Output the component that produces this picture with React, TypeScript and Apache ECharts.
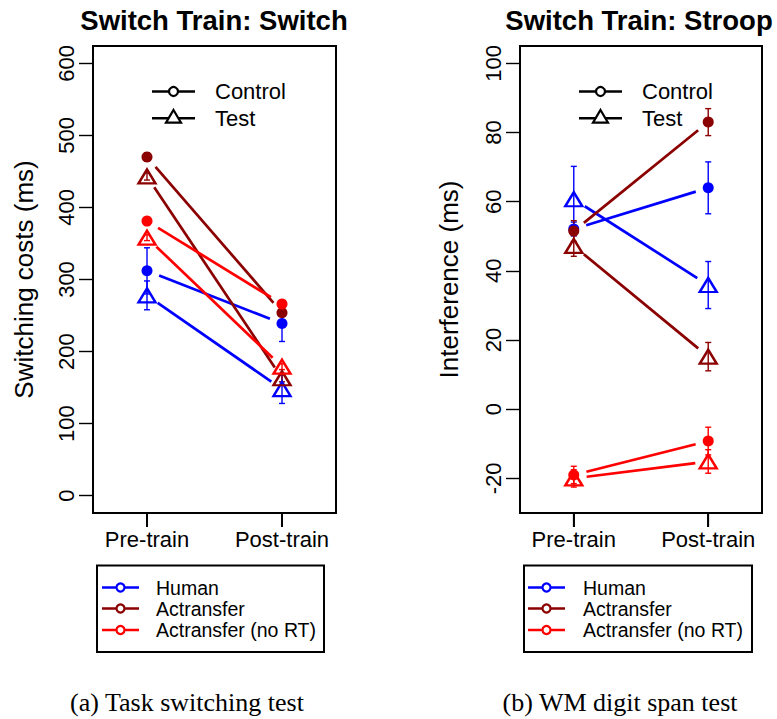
import React, { useEffect, useRef } from "react";
import * as echarts from "echarts";

// ---------- data ----------
const groups = ["Human", "Actransfer", "Actransfer (no RT)"];
const groupColors = ["#0000FF", "#8B0000", "#FF0000"];
const phases = [1, 2];
const phaseLabels = ["Pre-train", "Post-train"];
const conditions = ["Control", "Test"];

// Panel (a): Switch Train: Switch — switching costs (ms), [pre, post] per group
const switchControl = [[312, 239], [470, 254], [381, 266]];
const switchControlErr = [[32, 25], [6, 5], [4, 4]];
const switchTest = [[278, 148], [443, 163], [358, 179]];
const switchTestErr = [[20, 20], [5, 5], [4, 4]];
const switchTicks = [0, 100, 200, 300, 400, 500, 600];
const switchRange = [-24, 624];

// Panel (b): Switch Train: Stroop — interference (ms)
const stroopControl = [[52.1, 64.0], [51.5, 83.0], [-19.0, -9.2]];
const stroopControlErr = [[2, 7.5], [3, 3.9], [2.5, 4]];
const stroopTest = [[60.7, 35.9], [47.2, 15.2], [-20.0, -15.1]];
const stroopTestErr = [[9.5, 6.8], [3, 4.1], [2.5, 3.4]];
const stroopTicks = [-20, 0, 20, 40, 60, 80, 100];
const stroopRange = [-30, 105];

const panelTitles = ["Switch Train: Switch", "Switch Train: Stroop"];
const yTitles = ["Switching costs (ms)", "Interference (ms)"];
const captions = ["(a) Task switching test", "(b) WM digit span test"];

const SANS = "'Liberation Sans', Arial, Helvetica, sans-serif";
const SERIF = "'Liberation Serif', 'Times New Roman', serif";

function buildSeries(
  gridIndex: number,
  control: number[][],
  controlErr: number[][],
  test: number[][],
  testErr: number[][]
) {
  const out: any[] = [];
  groups.forEach((g, gi) => {
    const color = groupColors[gi];
    [
      { vals: control[gi], errs: controlErr[gi], test: false },
      { vals: test[gi], errs: testErr[gi], test: true },
    ].forEach((c) => {
      // connecting line with gaps (R type = "b")
      out.push({
        type: "custom",
        xAxisIndex: gridIndex,
        yAxisIndex: gridIndex,
        silent: true,
        encode: { x: [0, 2], y: [1, 3] },
        data: [[phases[0], c.vals[0], phases[1], c.vals[1]]],
        renderItem: (params: any, api: any) => {
          const p1 = api.coord([api.value(0), api.value(1)]);
          const p2 = api.coord([api.value(2), api.value(3)]);
          const dx = p2[0] - p1[0];
          const dy = p2[1] - p1[1];
          const len = Math.hypot(dx, dy) || 1;
          const ux = dx / len;
          const uy = dy / len;
          const gap = 13;
          return {
            type: "line",
            shape: {
              x1: p1[0] + ux * gap,
              y1: p1[1] + uy * gap,
              x2: p2[0] - ux * gap,
              y2: p2[1] - uy * gap,
            },
            style: { stroke: color, lineWidth: 2.7 },
          };
        },
      });
      // error bars
      out.push({
        type: "custom",
        xAxisIndex: gridIndex,
        yAxisIndex: gridIndex,
        silent: true,
        encode: { x: 0, y: 1 },
        data: phases.map((p, i) => [p, c.vals[i], c.errs[i]]),
        renderItem: (params: any, api: any) => {
          const x = api.value(0);
          const y = api.value(1);
          const e = api.value(2);
          const top = api.coord([x, y + e]);
          const bot = api.coord([x, y - e]);
          const st = { stroke: color, lineWidth: 1.4 };
          return {
            type: "group",
            children: [
              { type: "line", shape: { x1: top[0], y1: top[1], x2: bot[0], y2: bot[1] }, style: st },
              { type: "line", shape: { x1: top[0] - 3, y1: top[1], x2: top[0] + 3, y2: top[1] }, style: st },
              { type: "line", shape: { x1: bot[0] - 3, y1: bot[1], x2: bot[0] + 3, y2: bot[1] }, style: st },
            ],
          };
        },
      });
      // markers
      out.push({
        type: "scatter",
        xAxisIndex: gridIndex,
        yAxisIndex: gridIndex,
        silent: true,
        emphasis: { disabled: true },
        data: phases.map((p, i) => [p, c.vals[i]]),
        symbol: c.test ? "triangle" : "circle",
        symbolSize: c.test ? [17, 14] : 11,
        itemStyle: c.test
          ? { color: "rgba(0,0,0,0)", borderColor: color, borderWidth: 2.4, opacity: 1 }
          : { color: color, opacity: 1 },
      });
    });
  });
  return out;
}

function topLegend(lineX0: number, textX: number): any[] {
  const lx1 = lineX0 + 43;
  const cx = lineX0 + 21.5;
  const y1 = 91.5;
  const y2 = 118.3;
  const ls = { stroke: "#000", lineWidth: 2.5 };
  return [
    { type: "line", shape: { x1: lineX0, y1, x2: lx1, y2: y1 }, style: ls },
    { type: "circle", shape: { cx, cy: y1, r: 4.5 }, style: { fill: "#fff", stroke: "#000", lineWidth: 2.2 } },
    { type: "text", x: textX, y: y1, style: { text: conditions[0], fill: "#000", font: `22px ${SANS}`, textVerticalAlign: "middle" } },
    { type: "line", shape: { x1: lineX0, y1: y2, x2: lx1, y2 }, style: ls },
    {
      type: "polygon",
      shape: { points: [[cx, y2 - 8.3], [cx + 7.5, y2 + 4.4], [cx - 7.5, y2 + 4.4]] },
      style: { fill: "#fff", stroke: "#000", lineWidth: 2.2 },
    },
    { type: "text", x: textX, y: y2, style: { text: conditions[1], fill: "#000", font: `22px ${SANS}`, textVerticalAlign: "middle" } },
  ];
}

function bottomLegend(bx0: number, bx1: number, lineX0: number, textX: number): any[] {
  const els: any[] = [
    { type: "rect", shape: { x: bx0, y: 565.5, width: bx1 - bx0, height: 86.5 }, style: { fill: "#fff", stroke: "#000", lineWidth: 2 } },
  ];
  const rows = [587.5, 608.5, 630];
  groups.forEach((g, i) => {
    const y = rows[i];
    els.push({ type: "line", shape: { x1: lineX0, y1: y, x2: lineX0 + 37, y2: y }, style: { stroke: groupColors[i], lineWidth: 2.5 } });
    els.push({ type: "circle", shape: { cx: lineX0 + 18.5, cy: y, r: 4 }, style: { fill: "#fff", stroke: groupColors[i], lineWidth: 2.2 } });
    els.push({ type: "text", x: textX, y, style: { text: g, fill: "#000", font: `19.5px ${SANS}`, textVerticalAlign: "middle" } });
  });
  return els;
}

export default function App() {
  const ref = useRef<HTMLDivElement>(null);
  useEffect(() => {
    document.body.style.margin = "0";
    if (!ref.current) return;
    const chart = echarts.init(ref.current, undefined, { renderer: "svg" });

    const gridCommon = { show: true, borderColor: "#000", borderWidth: 2, backgroundColor: "transparent", containLabel: false, outerBoundsMode: "none" };
    const xAxisCommon = (gi: number) => ({
      type: "value",
      gridIndex: gi,
      position: "bottom",
      min: 0.6,
      max: 2.4,
      axisLine: { show: true, onZero: false, lineStyle: { color: "#000", width: 2 } },
      splitLine: { show: false },
      axisTick: { show: true, inside: false, length: 14, customValues: phases, lineStyle: { color: "#000", width: 1.8 } },
      axisLabel: {
        show: true,
        customValues: phases,
        margin: 15,
        color: "#000",
        fontSize: 22,
        fontFamily: SANS,
        formatter: (v: number) => phaseLabels[phases.indexOf(v)] ?? "",
      },
    });
    const yAxisCommon = (gi: number, range: number[], ticks: number[], name: string, nameGap: number) => ({
      type: "value",
      gridIndex: gi,
      position: "left",
      min: range[0],
      max: range[1],
      name,
      nameLocation: "middle",
      nameGap,
      nameRotate: 90,
      nameTextStyle: { fontSize: 26, color: "#000", fontFamily: SANS },
      axisLine: { show: true, onZero: false, lineStyle: { color: "#000", width: 2 } },
      splitLine: { show: false },
      axisTick: { show: true, inside: false, length: 14, customValues: ticks, lineStyle: { color: "#000", width: 1.4 } },
      axisLabel: {
        show: true,
        customValues: ticks,
        rotate: 90,
        margin: 16,
        color: "#000",
        fontSize: 22,
        fontFamily: SANS,
      },
    });

    const baseGraphics: any[] = [
      { type: "text", x: 214, y: 20, style: { text: panelTitles[0], fill: "#000", font: `bold 27.5px ${SANS}`, textAlign: "center", textVerticalAlign: "middle" } },
      { type: "text", x: 639, y: 20, style: { text: panelTitles[1], fill: "#000", font: `bold 27.5px ${SANS}`, textAlign: "center", textVerticalAlign: "middle" } },
      ...topLegend(152, 215),
      ...topLegend(579, 642),
      ...bottomLegend(97, 324, 102, 156),
      ...bottomLegend(524, 752, 528, 583),
      { type: "text", x: 187, y: 702, style: { text: captions[0], fill: "#000", font: `26px ${SERIF}`, textAlign: "center", textVerticalAlign: "middle" } },
      { type: "text", x: 620, y: 702, style: { text: captions[1], fill: "#000", font: `26px ${SERIF}`, textAlign: "center", textVerticalAlign: "middle" } },
    ];

    chart.setOption({
      animation: false,
      backgroundColor: "#fff",
      grid: [
        { ...gridCommon, left: 93, top: 46, width: 243, height: 467 },
        { ...gridCommon, left: 520, top: 46, width: 242, height: 467 },
      ],
      xAxis: [xAxisCommon(0), xAxisCommon(1)],
      yAxis: [
        yAxisCommon(0, switchRange, switchTicks, yTitles[0], 56),
        yAxisCommon(1, stroopRange, stroopTicks, yTitles[1], 58),
      ],
      series: [
        ...buildSeries(0, switchControl, switchControlErr, switchTest, switchTestErr),
        ...buildSeries(1, stroopControl, stroopControlErr, stroopTest, stroopTestErr),
      ],
      graphic: baseGraphics,
    });

    // x-axis tick marks below each box, positioned through the axes' own scales
    const tickEls: any[] = [];
    [switchRange, stroopRange].forEach((range, gi) => {
      phases.forEach((p) => {
        const px = chart.convertToPixel({ xAxisIndex: gi, yAxisIndex: gi } as any, [p, range[0]]) as any;
        if (px && isFinite(px[0]) && isFinite(px[1])) {
          tickEls.push({
            type: "line",
            z: 100,
            shape: { x1: px[0], y1: px[1], x2: px[0], y2: px[1] + 14 },
            style: { stroke: "#000", lineWidth: 1.8 },
          });
        }
      });
    });
    chart.setOption({ graphic: [...baseGraphics, ...tickEls] });

    return () => chart.dispose();
  }, []);
  return <div ref={ref} style={{ width: 777, height: 719 }} />;
}
